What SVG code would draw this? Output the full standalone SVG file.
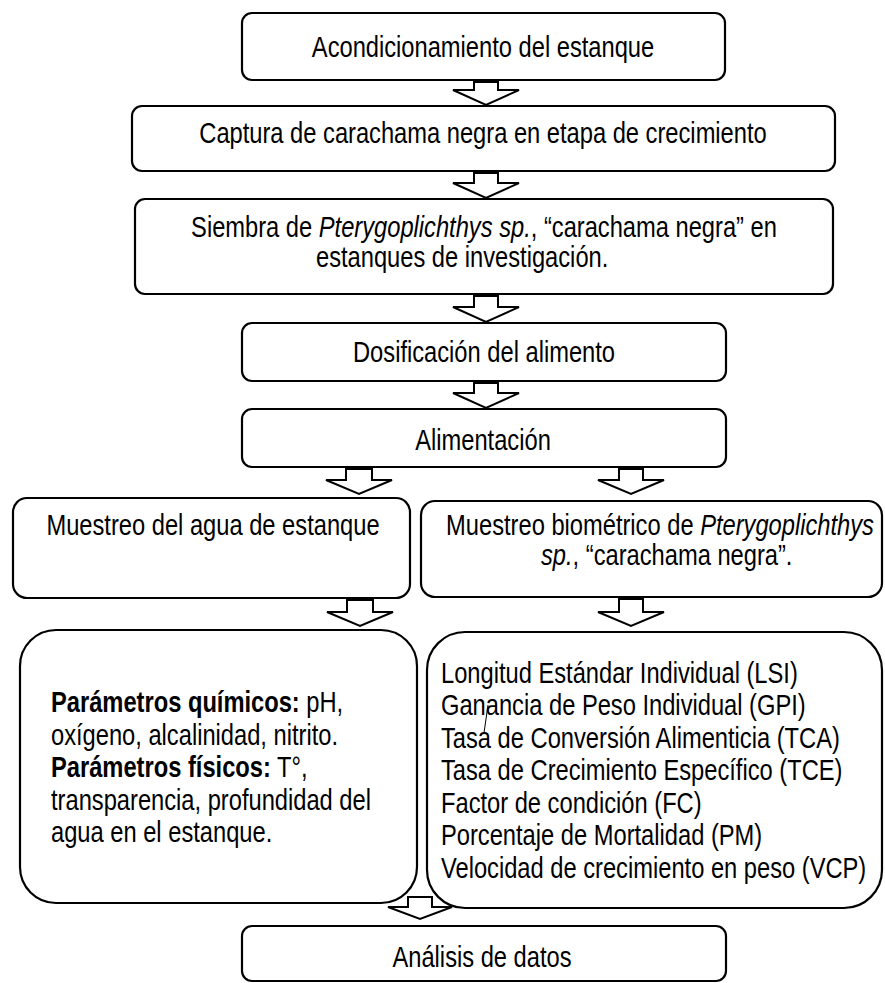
<svg xmlns="http://www.w3.org/2000/svg" width="885" height="983" viewBox="0 0 885 983">
<style>
.box{fill:#fff;stroke:#000;stroke-width:2.2}
.arr{fill:#fff;stroke:#000;stroke-width:2;stroke-linejoin:miter}
.band{fill:#000}
text{font-family:"Liberation Sans",Arial,sans-serif;font-size:30px;fill:#000}
.c{text-anchor:middle}
.i{font-style:italic}
.b{font-weight:bold}
</style>
<rect width="885" height="983" fill="#fff"/>
<g id="n1"><rect class="box" x="242" y="13" width="483" height="67" rx="10"/>
<text class="c" transform="translate(483,57) scale(0.79,1)">Acondicionamiento del estanque</text></g>
<g id="n2"><rect class="box" x="132" y="106" width="703" height="65" rx="10"/>
<text class="c" transform="translate(483,143) scale(0.79,1)">Captura de carachama negra en etapa de crecimiento</text></g>
<g id="n3"><rect class="box" x="135" y="199" width="698" height="95" rx="10"/>
<text class="c" transform="translate(484,237) scale(0.79,1)">Siembra de <tspan class="i">Pterygoplichthys sp.</tspan>, “carachama negra” en</text>
<text transform="translate(316,267) scale(0.79,1)">estanques de investigación.</text></g>
<g id="n4"><rect class="box" x="242" y="323" width="484" height="58" rx="10"/>
<text class="c" transform="translate(484,362) scale(0.79,1)">Dosificación del alimento</text></g>
<g id="n5"><rect class="box" x="242" y="409" width="484" height="58" rx="10"/>
<text class="c" transform="translate(483,450) scale(0.79,1)">Alimentación</text></g>
<g id="n6"><rect class="box" x="13" y="498" width="397" height="100" rx="14"/>
<text class="c" transform="translate(213,535) scale(0.79,1)">Muestreo del agua de estanque</text></g>
<g id="n7"><rect class="box" x="421" y="501" width="461" height="96" rx="14"/>
<text class="c" transform="translate(660,535) scale(0.79,1)">Muestreo biométrico de <tspan class="i">Pterygoplichthys</tspan></text>
<text transform="translate(541,565) scale(0.79,1)"><tspan class="i">sp.</tspan>, “carachama negra”.</text></g>
<g id="n8"><rect class="box" x="20" y="630" width="397" height="273" rx="36"/>
<text transform="translate(51,712) scale(0.79,1)"><tspan class="b">Parámetros químicos:</tspan> pH,</text>
<text transform="translate(51,745) scale(0.79,1)">oxígeno, alcalinidad, nitrito.</text>
<text transform="translate(51,777) scale(0.79,1)"><tspan class="b">Parámetros físicos:</tspan> T°,</text>
<text transform="translate(51,810) scale(0.79,1)">transparencia, profundidad del</text>
<text transform="translate(51,842) scale(0.79,1)">agua en el estanque.</text></g>
<g id="n9"><rect class="box" x="427" y="632" width="455" height="276" rx="38"/>
<text transform="translate(441,683) scale(0.79,1)">Longitud Estándar Individual (LSI)</text>
<text transform="translate(441,715) scale(0.79,1)">Ganancia de Peso Individual (GPI)</text>
<text transform="translate(441,748) scale(0.79,1)">Tasa de Conversión Alimenticia (TCA)</text>
<text transform="translate(441,780) scale(0.79,1)">Tasa de Crecimiento Específico (TCE)</text>
<text transform="translate(441,813) scale(0.79,1)">Factor de condición (FC)</text>
<text transform="translate(441,845) scale(0.79,1)">Porcentaje de Mortalidad (PM)</text>
<text transform="translate(441,878) scale(0.79,1)">Velocidad de crecimiento en peso (VCP)</text>
<path d="M488,705 L484,733" stroke="#000" stroke-width="1" fill="none"/></g>
<g id="n10"><rect class="box" x="242" y="926" width="484" height="55" rx="10"/>
<text class="c" transform="translate(482,967) scale(0.79,1)">Análisis de datos</text></g>
<g id="connectors">
<path class="arr" d="M474,80 V90 H453 L486,105 L519,90 H498 V80 Z"/><rect class="band" x="474" y="79" width="24" height="4"/>
<path class="arr" d="M474,171 V183 H453 L486,198 L519,183 H498 V171 Z"/><rect class="band" x="474" y="170" width="24" height="4"/>
<path class="arr" d="M474,294 V307 H453 L486,322 L519,307 H498 V294 Z"/><rect class="band" x="474" y="293" width="24" height="4"/>
<path class="arr" d="M474,381 V393 H453 L486,408 L519,393 H498 V381 Z"/><rect class="band" x="474" y="380" width="24" height="4"/>
<path class="arr" d="M346,467 V480 H326 L359,494 L392,480 H372 V467 Z"/><rect class="band" x="346" y="466" width="26" height="4"/>
<path class="arr" d="M619,467 V480 H598 L631,494 L664,480 H643 V467 Z"/><rect class="band" x="619" y="466" width="24" height="4"/>
<path class="arr" d="M347,598 V612 H327 L360,626 L393,612 H373 V598 Z"/><rect class="band" x="347" y="597" width="26" height="4"/>
<path class="arr" d="M619,597 V612 H598 L631,626 L664,612 H643 V597 Z"/><rect class="band" x="619" y="596" width="24" height="4"/>
<path class="arr" d="M408,897 V907 H388 L420,919 L452,907 H432 V897 Z"/>
</g>
</svg>
